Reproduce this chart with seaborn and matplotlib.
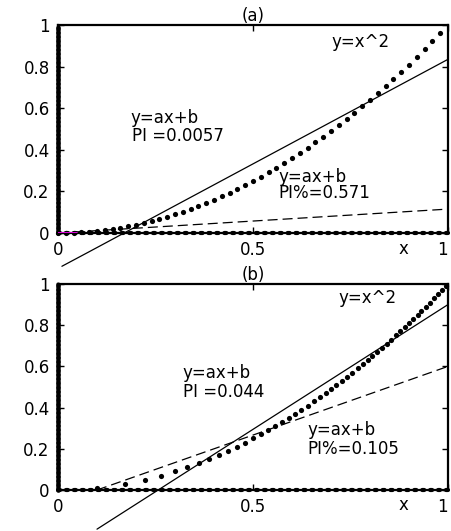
import numpy as np
import pandas as pd
import matplotlib
matplotlib.use("Agg")
import matplotlib.pyplot as plt
import seaborn as sns

# ---- panel (a) data ----
xa = [0.00, 0.02, 0.04, 0.06, 0.08, 0.10, 0.12, 0.14, 0.16, 0.18,
      0.20, 0.22, 0.24, 0.26, 0.28, 0.30, 0.32, 0.34, 0.36, 0.38,
      0.40, 0.42, 0.44, 0.46, 0.48, 0.50, 0.52, 0.54, 0.56, 0.58,
      0.60, 0.62, 0.64, 0.66, 0.68, 0.70, 0.72, 0.74, 0.76, 0.78,
      0.80, 0.82, 0.84, 0.86, 0.88, 0.90, 0.92, 0.94, 0.96, 0.98]
ya = [0.0000, 0.0004, 0.0016, 0.0036, 0.0064, 0.0100, 0.0144, 0.0196, 0.0256, 0.0324,
      0.0400, 0.0484, 0.0576, 0.0676, 0.0784, 0.0900, 0.1024, 0.1156, 0.1296, 0.1444,
      0.1600, 0.1764, 0.1936, 0.2116, 0.2304, 0.2500, 0.2704, 0.2916, 0.3136, 0.3364,
      0.3600, 0.3844, 0.4096, 0.4356, 0.4624, 0.4900, 0.5184, 0.5476, 0.5776, 0.6084,
      0.6400, 0.6724, 0.7056, 0.7396, 0.7744, 0.8100, 0.8464, 0.8836, 0.9216, 0.9604]
fit_pi_a_x = [0.01, 0.08, 1.00]
fit_pi_a_y = [-0.16, -0.09, 0.835]
fit_pip_a_x = [0.00, 1.00]
fit_pip_a_y = [0.00, 0.115]

# ---- panel (b) data ----
xb = [0.100, 0.173, 0.224, 0.265, 0.300, 0.332, 0.361, 0.387, 0.412, 0.436,
      0.458, 0.480, 0.500, 0.520, 0.539, 0.557, 0.574, 0.592, 0.608, 0.624,
      0.640, 0.656, 0.671, 0.686, 0.700, 0.714, 0.728, 0.742, 0.755, 0.768,
      0.781, 0.794, 0.806, 0.819, 0.831, 0.843, 0.854, 0.866, 0.877, 0.889,
      0.900, 0.911, 0.922, 0.932, 0.943, 0.954, 0.964, 0.975, 0.985, 0.995]
yb = [0.01, 0.03, 0.05, 0.07, 0.09, 0.11, 0.13, 0.15, 0.17, 0.19,
      0.21, 0.23, 0.25, 0.27, 0.29, 0.31, 0.33, 0.35, 0.37, 0.39,
      0.41, 0.43, 0.45, 0.47, 0.49, 0.51, 0.53, 0.55, 0.57, 0.59,
      0.61, 0.63, 0.65, 0.67, 0.69, 0.71, 0.73, 0.75, 0.77, 0.79,
      0.81, 0.83, 0.85, 0.87, 0.89, 0.91, 0.93, 0.95, 0.97, 0.99]
fit_pi_b_x = [0.10, 1.00]
fit_pi_b_y = [-0.19, 0.90]
fit_pip_b_x = [0.10, 1.00]
fit_pip_b_y = [0.00, 0.60]

yticks = [0, 0.2, 0.4, 0.6, 0.8, 1]
yticklabels = ["0", "0.2", "0.4", "0.6", "0.8", "1"]
xticks = [0, 0.5, 1]
xticklabels = ["0", "0.5", "1"]

sns.set_theme(style="white")
plt.rcParams["font.family"] = ["DejaVu Sans"]
plt.rcParams["text.color"] = "black"

fig = plt.figure(figsize=(4.51, 5.31), dpi=100)
ax_a = fig.add_axes([0.1286, 0.5612, 0.8647, 0.3917])
ax_b = fig.add_axes([0.1286, 0.0772, 0.8647, 0.3880])

FS = 12


def panel(ax, x, y, sx, sy, dx, dy, title, labels):
    # edge markers along the axes
    ax.plot([0, 0], [0, 1], color="black", lw=3.4, ls=(0, (0.35, 0.55)),
            dash_capstyle="round", clip_on=False, zorder=4)
    ax.plot([0, 1], [0, 0], color="black", lw=3.0, ls=(0, (0.5, 1.4)),
            dash_capstyle="round", clip_on=False, zorder=4)
    # sampled curve
    sns.scatterplot(x=x, y=y, ax=ax, color="black", s=14, linewidth=0,
                    clip_on=False, zorder=5, legend=False)
    # linear fits
    sns.lineplot(x=sx, y=sy, ax=ax, color="black", lw=0.9, sort=False,
                 estimator=None, legend=False)
    ax.lines[-1].set_clip_on(False)
    sns.lineplot(x=dx, y=dy, ax=ax, color="black", lw=0.9, sort=False,
                 estimator=None, legend=False)
    ax.lines[-1].set_dashes((8, 4))
    ax.lines[-1].set_clip_on(False)

    ax.set_xlim(0, 1)
    ax.set_ylim(0, 1)
    ax.set_yticks(yticks)
    ax.set_yticklabels(yticklabels, fontsize=FS, color="black")
    ax.set_xticks(xticks)
    ax.set_xticklabels(xticklabels, fontsize=FS, color="black")
    ax.get_xticklabels()[-1].set_ha("right")
    ax.tick_params(direction="in", length=4, width=1, top=True, right=True,
                   bottom=True, left=True, colors="black", pad=6)
    for s in ax.spines.values():
        s.set_color("black")
        s.set_linewidth(1.6)
    ax.set_xlabel("")
    ax.set_ylabel("")
    ax.set_title(title, fontsize=FS, pad=3, color="black")
    ax.text(0.885, -0.075, "x", transform=ax.transAxes, fontsize=FS,
            ha="center", va="center", color="black")
    for (tx, ty, s) in labels:
        ax.text(tx, ty, s, fontsize=FS, ha="left", va="center", color="black")


panel(ax_a, xa, ya, fit_pi_a_x, fit_pi_a_y, fit_pip_a_x, fit_pip_a_y, "(a)",
      [(0.70, 0.92, "y=x^2"),
       (0.185, 0.555, "y=ax+b"), (0.19, 0.465, "PI =0.0057"),
       (0.565, 0.27, "y=ax+b"), (0.565, 0.19, "PI%=0.571")])
# short coloured trace at the origin
ax_a.plot([0.0, 0.05], [0.002, 0.002], color="magenta", lw=1.2, zorder=6)

panel(ax_b, xb, yb, fit_pi_b_x, fit_pi_b_y, fit_pip_b_x, fit_pip_b_y, "(b)",
      [(0.72, 0.93, "y=x^2"),
       (0.32, 0.57, "y=ax+b"), (0.32, 0.475, "PI =0.044"),
       (0.64, 0.29, "y=ax+b"), (0.64, 0.20, "PI%=0.105")])

fig.savefig("out.png", dpi=100)
